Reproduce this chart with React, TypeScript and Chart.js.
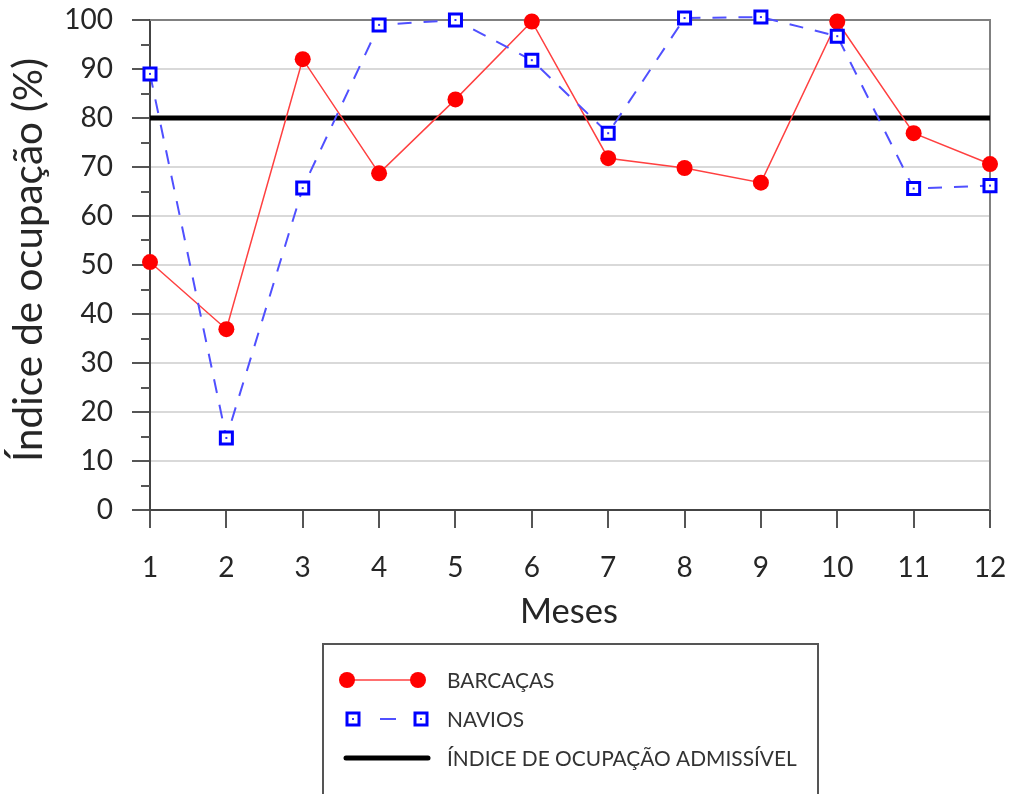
import React, { useEffect, useRef } from "react";
import { Chart, registerables } from "chart.js";

Chart.register(...registerables);

const months = ["1", "2", "3", "4", "5", "6", "7", "8", "9", "10", "11", "12"];
const barcacas = [50.6, 36.9, 92.0, 68.7, 83.8, 99.7, 71.8, 69.8, 66.8, 99.7, 76.9, 70.6];
const navios = [89.0, 14.7, 65.7, 99.0, 100.0, 91.8, 76.9, 100.4, 100.6, 96.7, 65.6, 66.2];
const admissivel = [80, 80, 80, 80, 80, 80, 80, 80, 80, 80, 80, 80];
const legendLabels = ["BARCAÇAS", "NAVIOS", "ÍNDICE DE OCUPAÇÃO ADMISSÍVEL"];
const yTitle = "Índice de ocupação (%)";
const xTitle = "Meses";

const FONT = "Lato, 'Open Sans', sans-serif";
const TEXT = "#262626";

function fitFont(ctx: any, text: string, target: number, base: number) {
  ctx.font = `${base}px ${FONT}`;
  const w = ctx.measureText(text).width;
  const size = (base * target) / w;
  ctx.font = `${size}px ${FONT}`;
  return size;
}

const extrasPlugin = {
  id: "extras",
  beforeDatasetsDraw(chart: any) {
    const { ctx, chartArea } = chart;
    const y = chart.scales.y;
    ctx.save();
    ctx.strokeStyle = "#555";
    ctx.lineWidth = 2;
    for (let v = 5; v < 100; v += 10) {
      const py = Math.round(y.getPixelForValue(v));
      ctx.beginPath();
      ctx.moveTo(chartArea.left - 9, py);
      ctx.lineTo(chartArea.left, py);
      ctx.stroke();
    }
    ctx.strokeStyle = "#808080";
    ctx.lineWidth = 2;
    ctx.beginPath();
    ctx.moveTo(chartArea.left, chartArea.top);
    ctx.lineTo(chartArea.right, chartArea.top);
    ctx.lineTo(chartArea.right, chartArea.bottom);
    ctx.stroke();
    ctx.restore();
  },
  afterDatasetsDraw(chart: any) {
    const { ctx } = chart;
    const meta = chart.getDatasetMeta(1);
    ctx.save();
    ctx.fillStyle = "#3030ff";
    meta.data.forEach((pt: any) => {
      ctx.fillRect(pt.x - 1, pt.y - 1, 2, 2);
    });
    ctx.restore();
  },
  afterDraw(chart: any) {
    const { ctx } = chart;
    ctx.save();
    ctx.fillStyle = TEXT;
    ctx.textAlign = "center";
    ctx.textBaseline = "middle";
    fitFont(ctx, xTitle, 98, 33);
    ctx.fillText(xTitle, 569, 612);
    ctx.translate(29, 260);
    ctx.rotate(-Math.PI / 2);
    fitFont(ctx, yTitle, 404, 33);
    ctx.fillText(yTitle, 0, 0);
    ctx.restore();

    ctx.save();
    ctx.strokeStyle = "#555";
    ctx.lineWidth = 2;
    ctx.beginPath();
    ctx.moveTo(323, 800);
    ctx.lineTo(323, 644);
    ctx.lineTo(818, 644);
    ctx.lineTo(818, 800);
    ctx.stroke();

    const rows = [680, 719, 758];
    ctx.strokeStyle = "#ff4040";
    ctx.lineWidth = 1.5;
    ctx.beginPath();
    ctx.moveTo(347, rows[0]);
    ctx.lineTo(418, rows[0]);
    ctx.stroke();
    ctx.fillStyle = "#ff0000";
    [347, 418].forEach((x) => {
      ctx.beginPath();
      ctx.arc(x, rows[0], 8, 0, Math.PI * 2);
      ctx.fill();
    });
    ctx.strokeStyle = "#5050ff";
    ctx.lineWidth = 2;
    ctx.beginPath();
    ctx.moveTo(380, rows[1]);
    ctx.lineTo(396, rows[1]);
    ctx.stroke();
    ctx.strokeStyle = "#0000ff";
    ctx.lineWidth = 3;
    [353, 421].forEach((x) => {
      ctx.fillStyle = "#fff";
      ctx.fillRect(x - 6, rows[1] - 6, 12, 12);
      ctx.strokeRect(x - 6, rows[1] - 6, 12, 12);
      ctx.fillStyle = "#3030ff";
      ctx.fillRect(x - 1, rows[1] - 1, 2, 2);
    });
    ctx.strokeStyle = "#000";
    ctx.lineWidth = 5;
    ctx.lineCap = "round";
    ctx.beginPath();
    ctx.moveTo(346, rows[2]);
    ctx.lineTo(428, rows[2]);
    ctx.stroke();

    ctx.fillStyle = "#333";
    ctx.textAlign = "left";
    ctx.textBaseline = "middle";
    fitFont(ctx, legendLabels[2], 350, 21);
    legendLabels.forEach((t, i) => ctx.fillText(t, 447, rows[i] + 1));
    ctx.restore();
  },
};

export default function App() {
  const ref = useRef<HTMLCanvasElement>(null);
  useEffect(() => {
    if (!ref.current) return;
    const chart = new Chart(ref.current, {
      type: "line",
      data: {
        labels: months,
        datasets: [
          {
            label: legendLabels[0],
            data: barcacas,
            borderColor: "#ff4040",
            borderWidth: 1.5,
            pointStyle: "circle",
            pointRadius: 8,
            pointBackgroundColor: "#ff0000",
            pointBorderWidth: 0,
            clip: false,
            order: 1,
          },
          {
            label: legendLabels[1],
            data: navios,
            borderColor: "#5050ff",
            borderWidth: 2,
            borderDash: [14, 12],
            pointStyle: "rect",
            pointRadius: 8.5,
            pointBackgroundColor: "#ffffff",
            pointBorderColor: "#0000ff",
            pointBorderWidth: 3,
            clip: false,
            order: 0,
          },
          {
            label: legendLabels[2],
            data: admissivel,
            borderColor: "#000000",
            borderWidth: 5,
            pointRadius: 0,
            clip: false,
            order: 2,
          },
        ],
      },
      options: {
        responsive: false,
        animation: false,
        devicePixelRatio: 1,
        layout: { padding: { top: 20, right: 19, left: 0, bottom: 0 } },
        plugins: { legend: { display: false }, tooltip: { enabled: false } },
        scales: {
          x: {
            offset: false,
            afterFit: (s: any) => {
              s.height = 284;
              s.paddingLeft = 0;
              s.paddingRight = 0;
            },
            border: { display: true, color: "#444", width: 2 },
            grid: {
              drawOnChartArea: false,
              drawTicks: true,
              tickLength: 18,
              tickColor: "#555",
              lineWidth: 2,
            },
            ticks: {
              color: TEXT,
              font: { family: FONT, size: 28 },
              padding: 23,
              maxRotation: 0,
              autoSkip: false,
            },
          },
          y: {
            min: 0,
            max: 100,
            afterFit: (s: any) => {
              s.width = 150;
              s.paddingTop = 0;
              s.paddingBottom = 0;
            },
            border: { display: true, color: "#444", width: 2 },
            grid: {
              color: (c: any) => (c.tick && c.tick.value % 10 === 0 ? "#d9d9d9" : "rgba(0,0,0,0)"),
              tickColor: (c: any) => (c.tick && c.tick.value % 10 === 0 ? "#555" : "rgba(0,0,0,0)"),
              lineWidth: 2,
              drawTicks: true,
              tickLength: 18,
            },
            ticks: {
              stepSize: 5,
              autoSkip: false,
              color: TEXT,
              font: { family: FONT, size: 28 },
              padding: 19,
              callback: (v: any) => (Number(v) % 10 === 0 ? String(v) : ""),
            },
          },
        },
      },
      plugins: [extrasPlugin],
    });
    return () => chart.destroy();
  }, []);
  return (
    <div style={{ position: "absolute", left: 0, top: 0, width: 1009, height: 794, background: "#fff" }}>
      <canvas ref={ref} width={1009} height={794} />
    </div>
  );
}
